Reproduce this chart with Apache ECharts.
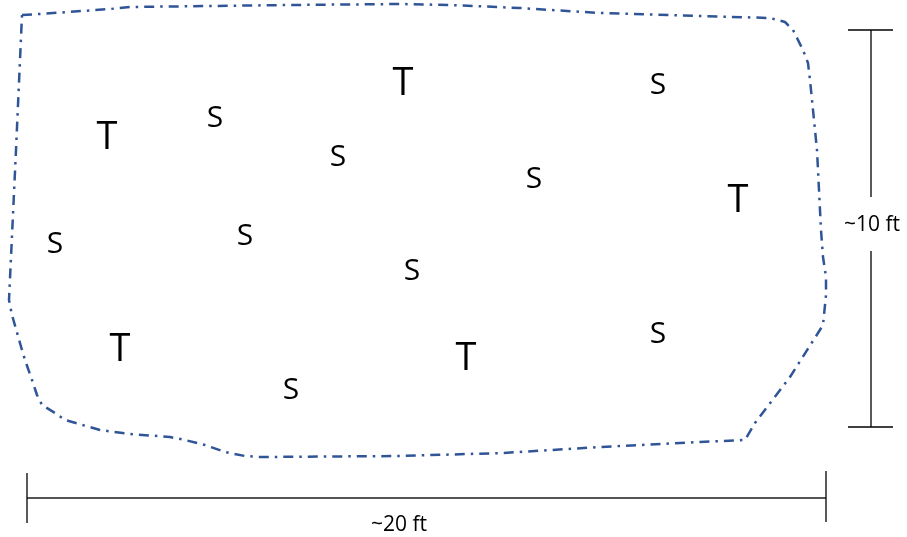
<!DOCTYPE html>
<html lang="en">
<head>
    <meta charset="utf-8"/>
    <title>Area sketch</title>
    <script src="https://cdn.jsdelivr.net/npm/echarts@6/dist/echarts.min.js"></script>
    <style>
        html, body { margin: 0; padding: 0; background: #fff; }
        #main { width: 907px; height: 537px; }
    </style>
</head>
<body>
<div id="main"></div>
<script>
    // outline of the bed (drawing units, y grows downward)
    var outlineX = [22, 40, 110, 130, 290, 400, 450, 520, 600, 700, 770, 785, 793, 803, 808, 810, 813, 817, 821, 823, 826, 826, 823,
        818, 790, 755, 745, 700, 600, 503, 400, 260, 245, 225, 205, 185, 170, 130, 100, 65, 55, 42, 37, 32, 25, 22, 12, 9, 16, 22];
    var outlineY = [15, 14, 9, 7, 5, 4, 5, 8, 13, 16, 18, 22, 30, 50, 63, 80, 110, 150, 230, 257, 277, 295, 325,
        333, 377, 423, 440, 442, 447, 453, 456, 457, 456, 452, 445, 440, 437, 434, 430, 420, 413, 405, 395, 380, 360, 350, 315, 300, 150, 15];

    // plants: T = tree, S = shrub
    var treeX = [107, 403, 738, 120, 466];
    var treeY = [138, 84, 201, 350, 359];
    var shrubX = [215, 658, 338, 534, 55, 245, 412, 658, 291];
    var shrubY = [118, 85, 157, 179, 244, 236, 271, 334, 390];

    // dimension marks
    var heightLabel = '~10 ft';
    var widthLabel = '~20 ft';

    function pts(xs, ys) {
        return xs.map(function (x, i) { return [x, ys[i]]; });
    }

    function textSeries(xs, ys, text, size) {
        return {
            type: 'scatter',
            symbolSize: 0,
            silent: true,
            itemStyle: { color: '#000', opacity: 1 },
            data: pts(xs, ys),
            label: {
                show: true,
                position: 'inside',
                formatter: text,
                fontFamily: '"Open Sans", sans-serif',
                fontSize: size,
                color: '#000',
                opacity: 1,
                textBorderWidth: 0
            }
        };
    }

    function seg(data, color, width) {
        return {
            type: 'line',
            data: data,
            showSymbol: false,
            silent: true,
            lineStyle: { color: color, width: width }
        };
    }

    var chart = echarts.init(document.getElementById('main'));
    var option = {
        animation: false,
        grid: { left: 0, right: 0, top: 0, bottom: 0 },
        xAxis: { type: 'value', min: 0, max: 907, show: false },
        yAxis: { type: 'value', min: 0, max: 537, inverse: true, show: false },
        series: [
            {
                type: 'line',
                data: pts(outlineX, outlineY),
                showSymbol: false,
                silent: true,
                lineStyle: { color: '#2f5597', width: 2.5, type: [10, 6, 2.5, 6] }
            },
            textSeries(treeX, treeY, 'T', 38),
            textSeries(shrubX, shrubY, 'S', 30),
            // vertical dimension
            seg([[871, 30], [871, 197]], '#000', 1.3),
            seg([[871, 251], [871, 427]], '#000', 1.3),
            seg([[848, 30], [893, 30]], '#000', 1.3),
            seg([[848, 427], [893, 427]], '#000', 1.3),
            // horizontal dimension
            seg([[27, 498], [826, 498]], '#555', 2),
            seg([[27, 473], [27, 523]], '#000', 1.3),
            seg([[826, 471], [826, 522]], '#000', 1.3),
            textSeries([872], [225], heightLabel, 21),
            textSeries([399], [525], widthLabel, 21)
        ]
    };
    chart.setOption(option);
</script>
</body>
</html>
